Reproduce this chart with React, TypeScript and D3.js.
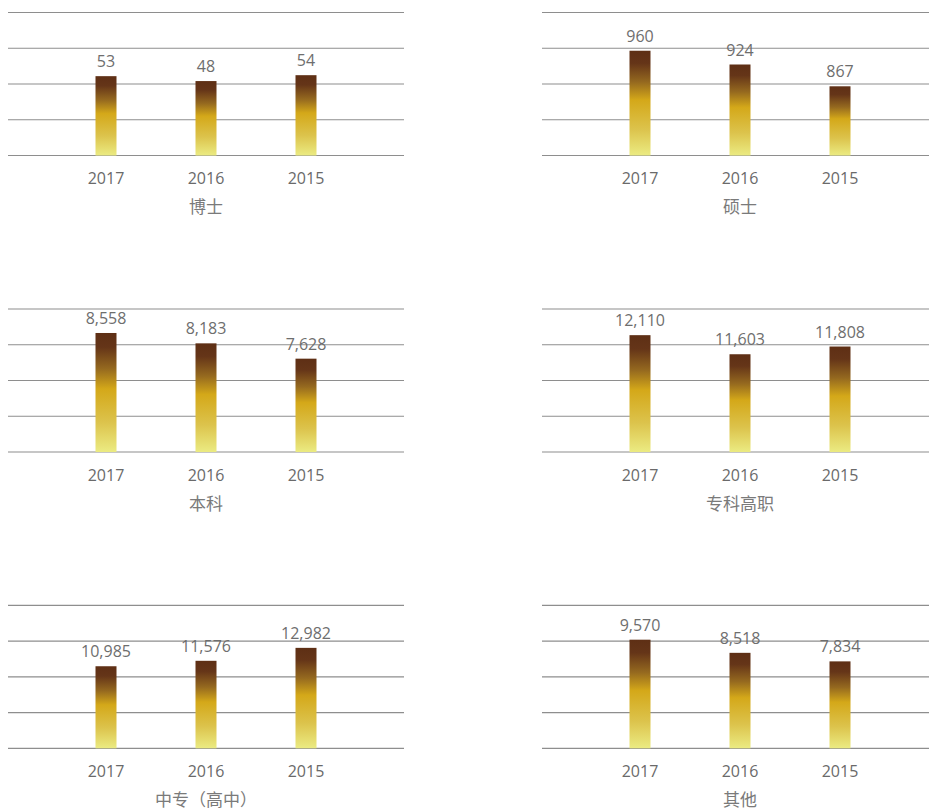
import React from "react";
import * as d3 from "d3";

const years = ["2017", "2016", "2015"];
const titles = ["博士", "硕士", "本科", "专科高职", "中专（高中）", "其他"];
const doctorValues = [53, 48, 54];
const masterValues = [960, 924, 867];
const bachelorValues = [8558, 8183, 7628];
const collegeValues = [12110, 11603, 11808];
const secondaryValues = [10985, 11576, 12982];
const otherValues = [9570, 8518, 7834];
const seriesValues = [doctorValues, masterValues, bachelorValues, collegeValues, secondaryValues, otherValues];
// per-panel value axis domains (the panels are not drawn from zero)
const panelDomains: [number, number][] = [
  [-28, 118],
  [686, 1060],
  [4247, 9427],
  [9006, 12805],
  [2074, 17604],
  [872, 12325],
];

const W = 929;
const H = 811;
const panelW = 396;
const panelH = 143;
const colX = [8, 542];
const rowTop = [12.5, 309, 605.3];
const barW = 21;

const fmt = d3.format(",");

export default function App() {
  const x = d3.scaleBand<string>().domain(years).range([48, 348]).padding(0);
  return (
    <svg
      width={W}
      height={H}
      style={{ position: "absolute", left: 0, top: 0, display: "block" }}
      fontFamily="'Open Sans', 'Noto Sans CJK SC', sans-serif"
    >
      <defs>
        <linearGradient id="barGrad" x1="0" y1="0" x2="0" y2="1">
          <stop offset="0" stopColor="#5e2f15" />
          <stop offset="0.12" stopColor="#653518" />
          <stop offset="0.3" stopColor="#95691f" />
          <stop offset="0.47" stopColor="#d4a819" />
          <stop offset="0.75" stopColor="#dcc34c" />
          <stop offset="1" stopColor="#ebeb82" />
        </linearGradient>
      </defs>
      {seriesValues.map((vals, i) => {
        const col = i % 2;
        const row = Math.floor(i / 2);
        const x0 = colX[col];
        const top = rowTop[row];
        const dom = panelDomains[i];
        const y = d3.scaleLinear().domain(dom).range([top + panelH, top]);
        const grid = d3.range(5).map((k) => dom[0] + (k * (dom[1] - dom[0])) / 4);
        const base = y(dom[0]);
        return (
          <g key={i}>
            {grid.map((g, k) => (
              <line
                key={k}
                x1={x0}
                x2={x0 + panelW}
                y1={y(g)}
                y2={y(g)}
                stroke="#8e8e8e"
                strokeWidth={1.2}
              />
            ))}
            {vals.map((v, j) => {
              const cx = x0 + (x(years[j]) as number) + x.bandwidth() / 2;
              return (
                <g key={j}>
                  <rect
                    x={cx - barW / 2}
                    y={y(v)}
                    width={barW}
                    height={base - y(v)}
                    fill="url(#barGrad)"
                  />
                  <text
                    x={cx}
                    y={y(v) - 9}
                    textAnchor="middle"
                    fontSize={16}
                    fill="#6e6e6e"
                  >
                    {fmt(v)}
                  </text>
                  <text
                    x={cx}
                    y={base + 28.5}
                    textAnchor="middle"
                    fontSize={16}
                    fill="#6a6a6a"
                  >
                    {years[j]}
                  </text>
                </g>
              );
            })}
            <text
              x={x0 + (x(years[1]) as number) + x.bandwidth() / 2}
              y={base + 57.5}
              textAnchor="middle"
              fontSize={17}
              fill="#7a7a7a"
              fontFamily="'Noto Sans CJK SC', sans-serif"
            >
              {titles[i]}
            </text>
          </g>
        );
      })}
    </svg>
  );
}
